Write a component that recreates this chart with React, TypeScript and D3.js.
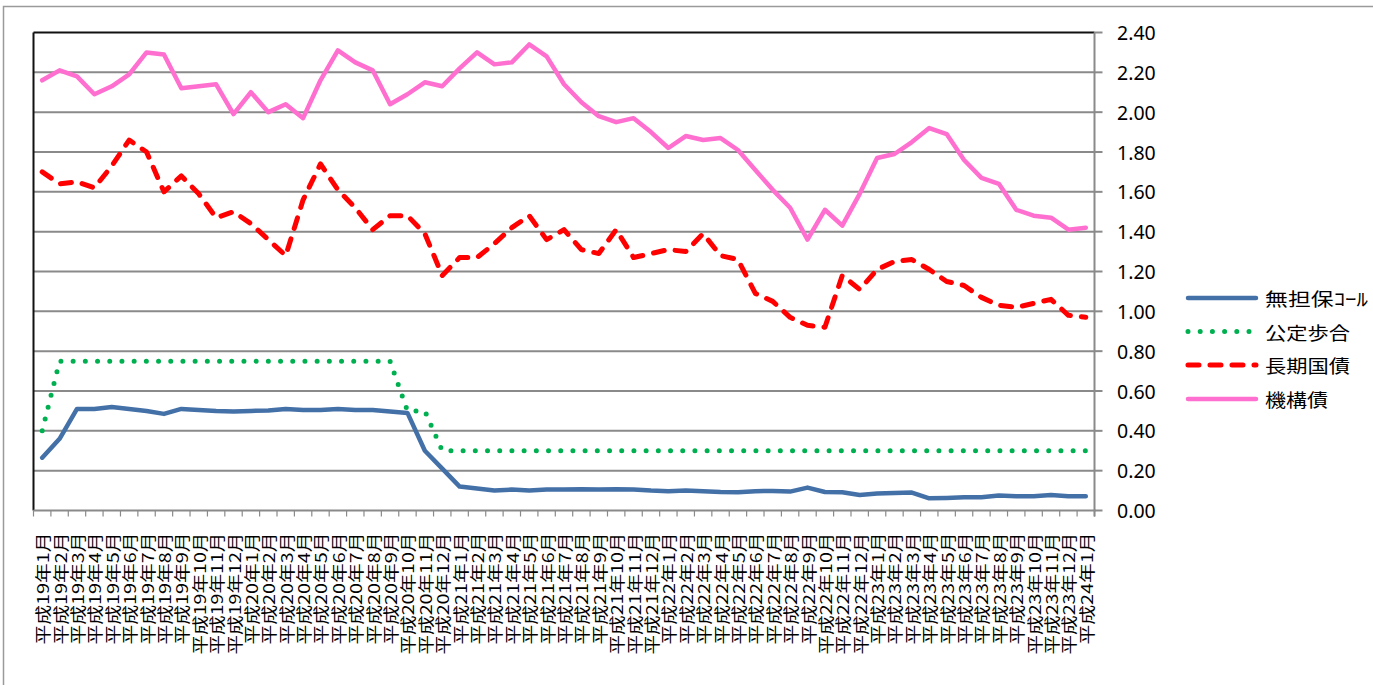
import React from "react";
import * as d3 from "d3";

const years = ["19", "20", "21", "22", "23"];
const months = ["1", "2", "3", "4", "5", "6", "7", "8", "9", "10", "11", "12"];
const categories: string[] = [
  ...years.flatMap((y) => months.map((m) => `平成${y}年${m}月`)),
  "平成24年1月",
];

const seriesNames = ["無担保ｺｰﾙ", "公定歩合", "長期国債", "機構債"];

const callRate = [
  0.265, 0.36, 0.51, 0.51, 0.52, 0.51, 0.5, 0.485, 0.51, 0.505,
  0.5, 0.497, 0.5, 0.502, 0.51, 0.505, 0.505, 0.51, 0.505, 0.505,
  0.497, 0.49, 0.3, 0.21, 0.12, 0.11, 0.1, 0.105, 0.1, 0.105,
  0.105, 0.107, 0.105, 0.107, 0.105, 0.1, 0.097, 0.1, 0.097, 0.093,
  0.092, 0.097, 0.098, 0.095, 0.115, 0.093, 0.092, 0.078, 0.085, 0.088,
  0.09, 0.061, 0.063, 0.066, 0.067, 0.075, 0.072, 0.072, 0.078, 0.072, 0.072,
];

const discountRate = [
  0.4, 0.75, 0.75, 0.75, 0.75, 0.75, 0.75, 0.75, 0.75, 0.75,
  0.75, 0.75, 0.75, 0.75, 0.75, 0.75, 0.75, 0.75, 0.75, 0.75,
  0.75, 0.5, 0.5, 0.3, 0.3, 0.3, 0.3, 0.3, 0.3, 0.3,
  0.3, 0.3, 0.3, 0.3, 0.3, 0.3, 0.3, 0.3, 0.3, 0.3,
  0.3, 0.3, 0.3, 0.3, 0.3, 0.3, 0.3, 0.3, 0.3, 0.3,
  0.3, 0.3, 0.3, 0.3, 0.3, 0.3, 0.3, 0.3, 0.3, 0.3, 0.3,
];

const jgb = [
  1.7, 1.64, 1.65, 1.62, 1.73, 1.86, 1.8, 1.6, 1.68, 1.59,
  1.47, 1.5, 1.44, 1.36, 1.28, 1.56, 1.74, 1.61, 1.52, 1.41,
  1.48, 1.48, 1.39, 1.18, 1.27, 1.27, 1.34, 1.42, 1.48, 1.36,
  1.41, 1.31, 1.29, 1.41, 1.27, 1.29, 1.31, 1.3, 1.39, 1.28,
  1.26, 1.09, 1.05, 0.97, 0.93, 0.92, 1.18, 1.11, 1.21, 1.25,
  1.26, 1.21, 1.15, 1.13, 1.07, 1.03, 1.02, 1.04, 1.06, 0.98, 0.97,
];

const agencyBond = [
  2.16, 2.21, 2.18, 2.09, 2.13, 2.19, 2.3, 2.29, 2.12, 2.13,
  2.14, 1.99, 2.1, 2.0, 2.04, 1.97, 2.16, 2.31, 2.25, 2.21,
  2.04, 2.09, 2.15, 2.13, 2.22, 2.3, 2.24, 2.25, 2.34, 2.28,
  2.14, 2.05, 1.98, 1.95, 1.97, 1.9, 1.82, 1.88, 1.86, 1.87,
  1.81, 1.71, 1.61, 1.52, 1.36, 1.51, 1.43, 1.59, 1.77, 1.79,
  1.85, 1.92, 1.89, 1.76, 1.67, 1.64, 1.51, 1.48, 1.47, 1.41, 1.42,
];

const yTicks = [0, 0.2, 0.4, 0.6, 0.8, 1.0, 1.2, 1.4, 1.6, 1.8, 2.0, 2.2, 2.4];

const W = 1373;
const H = 685;
const left = 33.5;
const right = 1094.5;
const top = 32.5;
const bottom = 510.5;

const styles = [
  { color: "#4470a8", width: 4.5, dash: undefined as string | undefined, cap: "round" },
  { color: "#00b050", width: 5, dash: "0 12.2", cap: "round" },
  { color: "#ff0000", width: 5, dash: "11 11", cap: "round" },
  { color: "#ff6fcf", width: 4.5, dash: undefined as string | undefined, cap: "round" },
];

const labelFont = "'Noto Sans CJK JP', 'Noto Sans', sans-serif";
const numFont = "'Noto Sans', 'Liberation Sans', sans-serif";

export default function App() {
  const x = d3.scaleBand<string>().domain(categories).range([left, right]).padding(0);
  const y = d3.scaleLinear().domain([0, 2.4]).range([bottom, top]);
  const cx = (c: string) => (x(c) as number) + x.bandwidth() / 2;

  const allSeries = [callRate, discountRate, jgb, agencyBond];
  const line = d3
    .line<number>()
    .x((_, i) => cx(categories[i]))
    .y((d) => y(d));

  const boundaries = categories.map((c) => x(c) as number).concat([right]);
  const legendYs = [298, 331.5, 365, 399];
  const legendLens = [103, 85, 85, 63];

  return (
    <svg
      width={W}
      height={H}
      style={{ position: "absolute", left: 0, top: 0, background: "#fff" }}
    >
      <rect x={3.5} y={6.5} width={W + 20} height={H + 20} fill="#fff" stroke="#9a9a9a" strokeWidth={1.5} />
      {/* gridlines */}
      {yTicks.slice(1, -1).map((t) => (
        <line key={t} x1={left} x2={right} y1={y(t)} y2={y(t)} stroke="#8a8a8a" strokeWidth={2} />
      ))}
      {/* plot border top & left */}
      <line x1={left} x2={right} y1={y(2.4)} y2={y(2.4)} stroke="#111" strokeWidth={2} />
      <line x1={left} x2={left} y1={top} y2={bottom} stroke="#111" strokeWidth={2} />
      {/* bottom axis */}
      <line x1={left} x2={right + 1} y1={bottom} y2={bottom} stroke="#8a8a8a" strokeWidth={2} />
      {boundaries.map((bx, i) => (
        <line key={i} x1={bx} x2={bx} y1={bottom} y2={bottom + 6} stroke="#8a8a8a" strokeWidth={1.2} />
      ))}
      {/* right axis */}
      <line x1={right} x2={right} y1={top} y2={bottom + 6} stroke="#8a8a8a" strokeWidth={2} />
      {yTicks.map((t) => (
        <g key={t}>
          <line x1={right} x2={right + 8} y1={y(t)} y2={y(t)} stroke="#8a8a8a" strokeWidth={2} />
          <text
            x={1117}
            y={y(t)}
            dominantBaseline="central"
            fontFamily={numFont}
            fontSize={19.5}
            fill="#000"
          >
            {t.toFixed(2)}
          </text>
        </g>
      ))}
      {/* x labels */}
      {categories.map((c) => {
        const digits = (c.match(/\d/g) || []).length;
        const len = 82 + 10 * digits;
        return (
          <text
            key={c}
            transform={`translate(${cx(c)},${bottom + 22}) rotate(-90)`}
            textAnchor="end"
            dominantBaseline="central"
            fontFamily={labelFont}
            fontSize={15.5}
            textLength={len}
            lengthAdjust="spacingAndGlyphs"
            fill="#000"
          >
            {c}
          </text>
        );
      })}
      {/* series */}
      {allSeries.map((s, k) => (
        <path
          key={k}
          d={line(s) || ""}
          fill="none"
          stroke={styles[k].color}
          strokeWidth={styles[k].width}
          strokeDasharray={styles[k].dash}
          strokeLinecap={styles[k].cap as any}
          strokeLinejoin="round"
        />
      ))}
      {/* legend */}
      {seriesNames.map((n, k) => (
        <g key={n}>
          <line
            x1={1188}
            x2={1256}
            y1={legendYs[k]}
            y2={legendYs[k]}
            stroke={styles[k].color}
            strokeWidth={styles[k].width}
            strokeDasharray={styles[k].dash}
            strokeLinecap={styles[k].cap as any}
          />
          <text
            x={1265}
            y={legendYs[k]}
            dominantBaseline="central"
            fontFamily={labelFont}
            fontSize={18}
            textLength={legendLens[k]}
            lengthAdjust="spacingAndGlyphs"
            fill="#000"
          >
            {n}
          </text>
        </g>
      ))}
    </svg>
  );
}
